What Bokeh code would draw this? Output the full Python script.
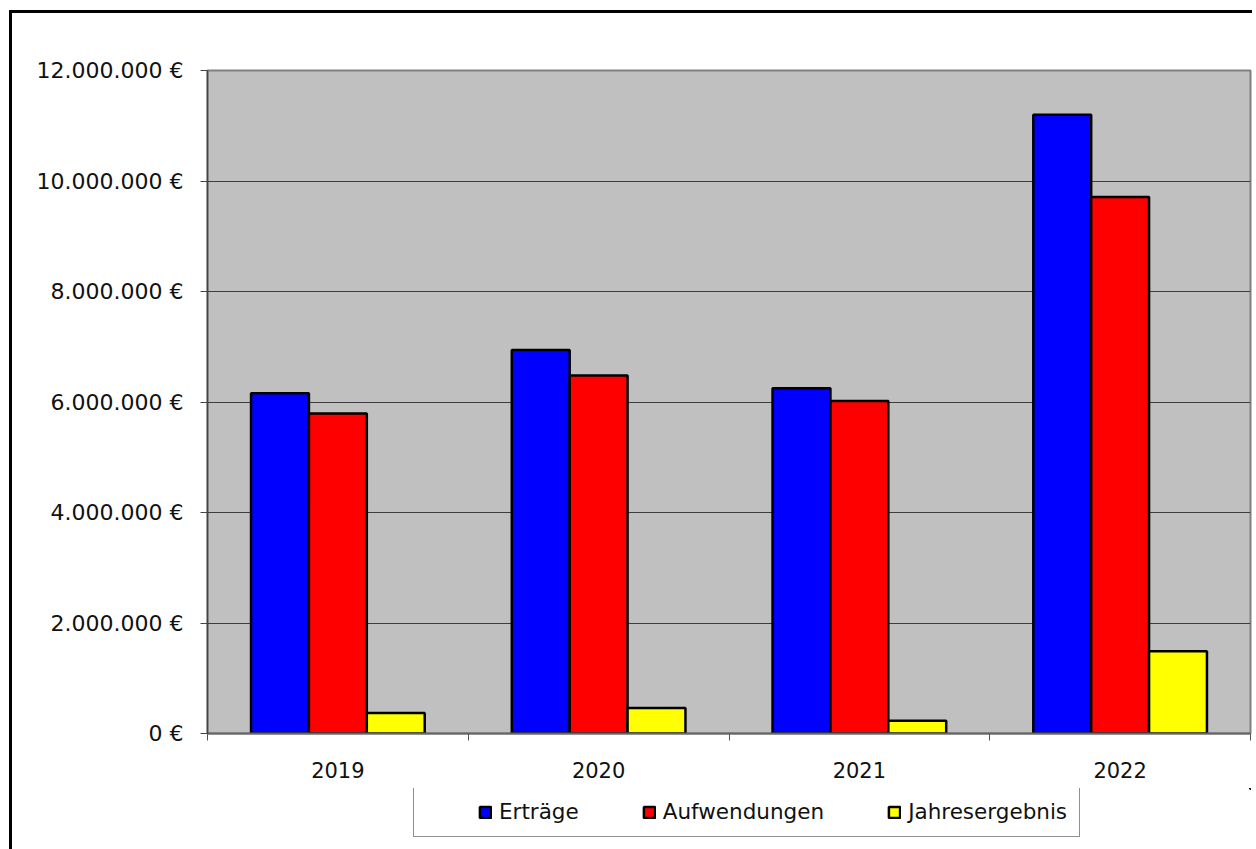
from bokeh.plotting import figure
from bokeh.layouts import column
from bokeh.models import (ColumnDataSource, Range1d, FixedTicker, Legend, LegendItem)
from bokeh.transform import dodge
from bokeh.embed import file_html
from bokeh.resources import INLINE

years = ["2019", "2020", "2021", "2022"]
ertraege = [6160000, 6940000, 6250000, 11200000]
aufwendungen = [5790000, 6480000, 6020000, 9710000]
jahresergebnis = [370000, 460000, 230000, 1490000]
series_names = ["Erträge", "Aufwendungen", "Jahresergebnis"]
series_colors = ["#0000FF", "#FF0000", "#FFFF00"]
y_ticks = [0, 2000000, 4000000, 6000000, 8000000, 10000000, 12000000]

FONT = "DejaVu Sans"

centers = [i + 0.5 for i in range(len(years))]
src = ColumnDataSource(dict(x=centers, e=ertraege, a=aufwendungen, j=jahresergebnis))
fields = ["e", "a", "j"]

p = figure(width=1240, height=775, output_backend="svg", toolbar_location=None,
           x_range=Range1d(0, len(years)), y_range=Range1d(0, 12000000),
           min_border_left=195, min_border_top=57, min_border_right=2,
           min_border_bottom=55)

p.background_fill_color = "#C0C0C0"
p.border_fill_color = "white"
p.outline_line_color = "#808080"
p.outline_line_width = 2

bw = 0.222
for k, (f, c) in enumerate(zip(fields, series_colors)):
    p.vbar(x=dodge("x", (k - 1) * bw, range=p.x_range), top=f, width=bw, source=src,
           fill_color=c, line_color="black", line_width=2.5)

p.xgrid.visible = False
p.ygrid.grid_line_color = "#3d3d3d"
p.ygrid.grid_line_width = 1.2
p.ygrid.ticker = FixedTicker(ticks=y_ticks)

ya = p.yaxis[0]
ya.ticker = FixedTicker(ticks=y_ticks)
ya.major_label_overrides = {v: format(v, ",").replace(",", ".") + " €" for v in y_ticks}
ya.major_label_text_font = FONT
ya.major_label_text_font_size = "22px"
ya.major_label_text_color = "#111111"
ya.major_tick_out = 7
ya.major_tick_in = 0
ya.minor_tick_out = 0
ya.major_label_standoff = 17
ya.axis_line_color = "#444444"
ya.major_tick_line_color = "#444444"
ya.axis_line_width = 1.5

xa = p.xaxis[0]
xa.ticker = FixedTicker(ticks=centers, minor_ticks=list(range(len(years) + 1)))
xa.major_label_overrides = {c: y for c, y in zip(centers, years)}
xa.major_label_text_font = FONT
xa.major_label_text_font_size = "21px"
xa.major_label_text_color = "#111111"
xa.major_tick_out = 7
xa.major_tick_in = 0
xa.major_tick_line_alpha = 0
xa.minor_tick_out = 7
xa.minor_tick_in = 0
xa.minor_tick_line_color = "#555555"
xa.major_label_standoff = 21
xa.axis_line_color = "#666666"
xa.axis_line_width = 2

# legend strip below the chart (its renderers use the same data but lie outside its view)
pl = figure(width=1240, height=61, output_backend="svg", toolbar_location=None,
            x_range=Range1d(-20, -19), y_range=Range1d(-20, -19),
            x_axis_location=None, y_axis_location=None,
            min_border=0)
pl.grid.visible = False
pl.outline_line_color = None
pl.background_fill_color = "white"
pl.border_fill_color = "white"
legend_renderers = [pl.vbar(x="x", top=f, width=bw, source=src, fill_color=c,
                            line_color="black", line_width=2.5)
                    for f, c in zip(fields, series_colors)]

legend = Legend(items=[LegendItem(label=n, renderers=[r])
                       for n, r in zip(series_names, legend_renderers)],
                orientation="horizontal", location=(206, 12))
legend.title = " "
legend.title_location = "left"
legend.title_text_font = FONT
legend.title_text_font_size = "21px"
legend.title_standoff = 28
legend.margin = 0
legend.padding = 12
legend.spacing = 63
legend.glyph_width = 14
legend.glyph_height = 14
legend.label_standoff = 7
legend.label_height = 24
legend.label_text_font = FONT
legend.label_text_font_size = "21.5px"
legend.label_text_color = "#111111"
legend.border_line_color = "#222222"
legend.border_line_width = 1.2
legend.background_fill_color = "white"
legend.background_fill_alpha = 1
pl.add_layout(legend, "center")

layout = column(p, pl, spacing=0)
layout.styles = {"border-left": "3px solid black", "border-top": "3px solid black",
                 "margin-left": "9px", "margin-top": "10px"}

open("out.html", "w").write(file_html(layout, INLINE))
